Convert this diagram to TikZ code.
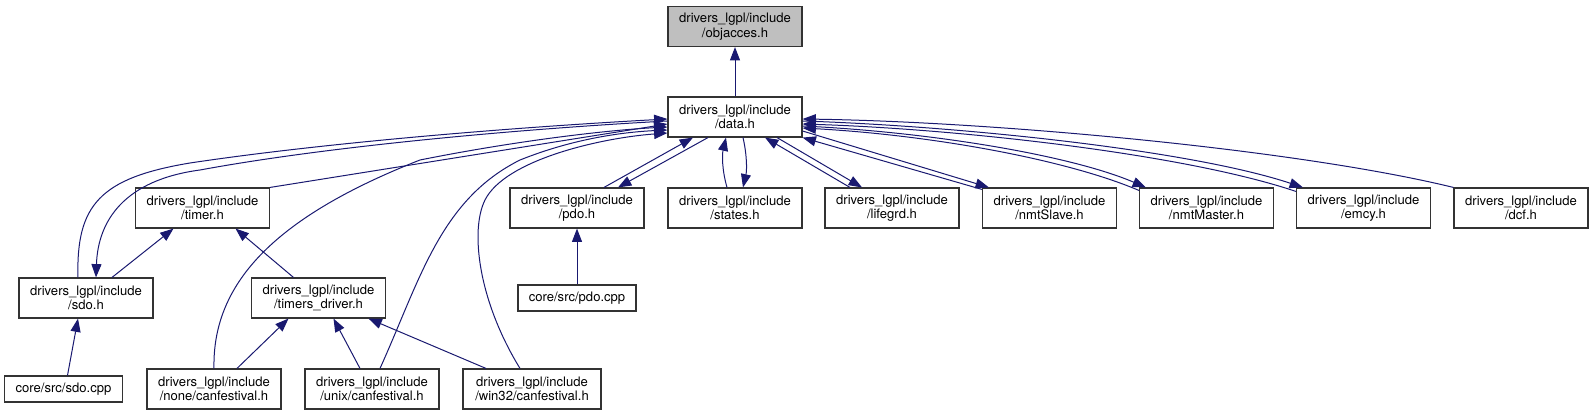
\documentclass[tikz,border=0pt]{standalone}
\usepackage{fontspec}
\setmainfont{TeX Gyre Heros}
\usetikzlibrary{arrows.meta,calc}
\definecolor{linkblue}{HTML}{191970}
\definecolor{nodegray}{HTML}{BFBFBF}
\begin{document}
\begin{tikzpicture}[x=0.75pt,y=-0.75pt,
    hfile/.style={draw=black!80,line width=0.85pt,align=center,inner sep=0pt,
      minimum width=100.5pt,minimum height=30pt,font=\fontsize{9.8}{10.75}\selectfont},
    cppfile/.style={hfile,minimum width=89pt,minimum height=19.5pt},
    dep/.style={draw=linkblue,line width=0.75pt,-{Triangle[length=10pt,width=7.5pt]}}]
    \useasboundingbox (0,0) rectangle (1593,416);
    % header files, one row per level
    \node (objacces) at (735,26.5) [hfile,fill=nodegray] {drivers\_lgpl/include\\/objacces.h};
    \node (data) at (735,117) [hfile] {drivers\_lgpl/include\\/data.h};
    \node (timer) at (202.5,208) [hfile] {drivers\_lgpl/include\\/timer.h};
    \node (pdo) at (577,208) [hfile] {drivers\_lgpl/include\\/pdo.h};
    \node (states) at (735,208) [hfile] {drivers\_lgpl/include\\/states.h};
    \node (lifegrd) at (892,208) [hfile] {drivers\_lgpl/include\\/lifegrd.h};
    \node (nmtslave) at (1049.5,208) [hfile] {drivers\_lgpl/include\\/nmtSlave.h};
    \node (nmtmaster) at (1206.5,208) [hfile] {drivers\_lgpl/include\\/nmtMaster.h};
    \node (emcy) at (1363.5,208) [hfile] {drivers\_lgpl/include\\/emcy.h};
    \node (dcf) at (1521,208) [hfile] {drivers\_lgpl/include\\/dcf.h};
    \node (sdo) at (86,298) [hfile] {drivers\_lgpl/include\\/sdo.h};
    \node (timersdrv) at (318.5,298) [hfile] {drivers\_lgpl/include\\/timers\_driver.h};
    \node (pdocpp) at (577,298) [cppfile,minimum width=88.5pt] {core/src/pdo.cpp};
    \node (sdocpp) at (63.5,389) [cppfile] {core/src/sdo.cpp};
    \node (nonecf) at (214,389) [hfile] {drivers\_lgpl/include\\/none/canfestival.h};
    \node (unixcf) at (372,389) [hfile] {drivers\_lgpl/include\\/unix/canfestival.h};
    \node (wincf) at (532,389) [hfile,minimum width=103.5pt] {drivers\_lgpl/include\\/win32/canfestival.h};

    \draw[dep] (data) -- (objacces);
    % left side into data.h
    \draw[dep] ($(sdo.north)+(-8,0)$) .. controls (76,205) and (100,178) .. (190,163)
        .. controls (330,142) and (520,127) .. ($(data.west)+(0,2)$);
    \draw[dep] ($(data.west)+(0,4)$) .. controls (520,129) and (330,146) .. (200,170)
        .. controls (125,180) and (98,220) .. ($(sdo.north)+(10,0)$);
    \draw[dep] (timer.north east) -- ($(data.west)+(0,7)$);
    \draw[dep] (nonecf.north) .. controls (212,280) and (280,215) .. (420,160)
        .. controls (520,140) and (610,130) .. ($(data.west)+(0,10)$);
    \draw[dep] ($(unixcf.north)+(8,0)$) .. controls (420,280) and (440,200) .. (520,160)
        .. controls (575,138) and (625,132) .. ($(data.west)+(0,13)$);
    \draw[dep] ($(wincf.north)+(-12,0)$) .. controls (478,300) and (470,230) .. (485,200)
        .. controls (505,160) and (600,138) .. ($(data.west)+(0,16)$);
    % below data.h
    \draw[dep] ($(pdo.north)+(27,0)$) -- ($(data.south)+(-42,0)$);
    \draw[dep] ($(data.south)+(-27,0)$) -- ($(pdo.north)+(41,0)$);
    \draw[dep] ($(states.north)+(-8,0)$) .. controls (722,170) and (722,155) .. ($(data.south)+(-9,0)$);
    \draw[dep] ($(data.south)+(8,0)$) .. controls (747,155) and (747,170) .. ($(states.north)+(8,0)$);
    \draw[dep] ($(lifegrd.north)+(-42,0)$) -- ($(data.south)+(30,0)$);
    \draw[dep] ($(data.south)+(42,0)$) -- ($(lifegrd.north)+(-30,0)$);
    % right side of data.h
    \draw[dep] ($(nmtslave.north west)+(0,2)$) -- (data.south east);
    \draw[dep] ($(data.east)+(0,14)$) -- ($(nmtslave.north west)+(7,0)$);
    \draw[dep] ($(nmtmaster.north west)+(0,3)$) .. controls (1065,159) and (930,135) .. ($(data.east)+(0,11)$);
    \draw[dep] ($(data.east)+(0,9)$) .. controls (930,132) and (1070,155) .. ($(nmtmaster.north west)+(7,0)$);
    \draw[dep] ($(emcy.north west)+(0,4)$) .. controls (1185,154) and (960,129) .. ($(data.east)+(0,7)$);
    \draw[dep] ($(data.east)+(0,4)$) .. controls (960,126) and (1190,150) .. ($(emcy.north west)+(7,0)$);
    \draw[dep] (dcf.north west) .. controls (1300,150) and (1000,122) .. ($(data.east)+(0,2)$);
    % lower levels
    \draw[dep] ($(sdo.north)+(26,0)$) -- ($(timer.south)+(-29,0)$);
    \draw[dep] ($(timersdrv.north)+(-25,0)$) -- ($(timer.south)+(33,0)$);
    \draw[dep] ($(nonecf.north)+(23,0)$) -- ($(timersdrv.south)+(-30,0)$);
    \draw[dep] ($(unixcf.north)+(-12,0)$) -- ($(timersdrv.south)+(15,0)$);
    \draw[dep] ($(wincf.north)+(-46,0)$) -- ($(timersdrv.south)+(50,0)$);
    \draw[dep] ($(sdocpp.north)+(4,0)$) -- ($(sdo.south)+(-8,0)$);
    \draw[dep] (pdocpp) -- (pdo);
\end{tikzpicture}
\end{document}
